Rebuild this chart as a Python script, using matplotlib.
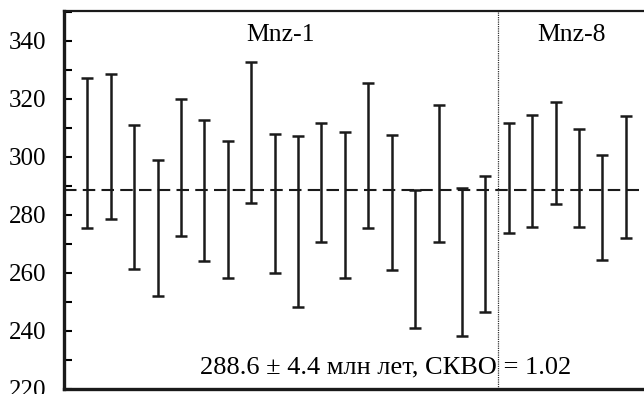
import numpy as np
import matplotlib.pyplot as plt
from matplotlib.ticker import MultipleLocator

plt.rcParams['font.family'] = ['Liberation Serif', 'DejaVu Serif']

# upper and lower ends of each error bar (Ma)
top_1 = [327.1, 328.4, 310.9, 298.8, 320.0, 312.5, 305.4, 332.5, 307.7,
         307.1, 311.5, 308.5, 325.5, 307.4, 288.5, 317.9, 289.3, 293.5]
low_1 = [275.4, 278.6, 261.5, 252.0, 272.8, 264.2, 258.3, 284.1, 260.1,
         248.4, 270.5, 258.3, 275.5, 261.1, 240.9, 270.6, 238.4, 246.6]
top_8 = [311.7, 314.3, 318.7, 309.4, 300.7, 313.9]
low_8 = [273.7, 275.8, 283.7, 275.7, 264.6, 272.0]
mean_age = 288.6
label = '288.6 ± 4.4 млн лет, СКВО = 1.02'

top = np.array(top_1 + top_8)
low = np.array(low_1 + low_8)
x = np.arange(1, len(top) + 1)
mid = (top + low) / 2
half = (top - low) / 2

fig = plt.figure(figsize=(6.44, 3.94), dpi=100)
ax = fig.add_axes([0.0994, 0.0127, 0.9006, 0.9594])

ax.errorbar(x, mid, yerr=half, fmt='none', ecolor='#1a1a1a', elinewidth=1.8,
            capsize=4, capthick=1.8)
ax.axhline(mean_age, color='#1a1a1a', lw=1.5, ls=(0, (6.0, 3.0)))
ax.axvline(len(top_1) + 0.55, color='#333333', lw=0.9, ls=(0, (1, 0.8)))

ax.text(9.27, 340, 'Mnz-1', fontsize=18.5, ha='center', va='baseline')
ax.text(21.69, 340, 'Mnz-8', fontsize=18.5, ha='center', va='baseline')
ax.text(13.75, 225.2, label, fontsize=19, ha='center', va='baseline')

ax.set_xlim(0, 24.78)
ax.set_ylim(220, 350.2)
ax.yaxis.set_major_locator(MultipleLocator(20))
ax.yaxis.set_minor_locator(MultipleLocator(10))
ax.set_xticks([])
ax.tick_params(axis='y', which='both', direction='in', length=6, width=1.5,
               labelsize=18, pad=13)
ax.spines['right'].set_visible(False)
ax.spines['left'].set_linewidth(2.4)
ax.spines['bottom'].set_linewidth(2.4)
ax.spines['top'].set_linewidth(1.6)
for s in ax.spines.values():
    s.set_color('#1a1a1a')

fig.savefig('out.png', dpi=100)
